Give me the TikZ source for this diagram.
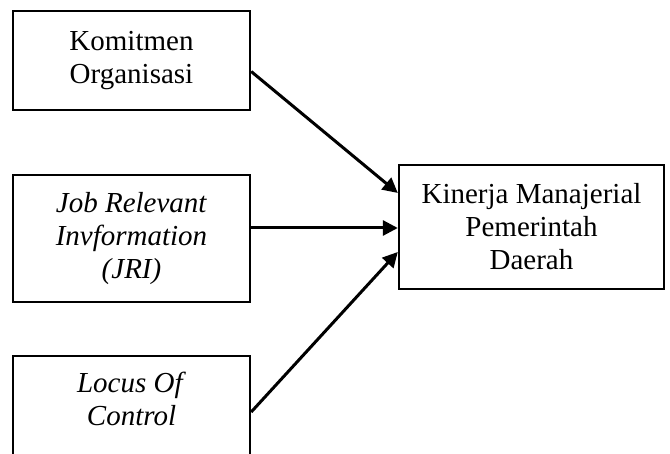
\documentclass[tikz,border=0pt]{standalone}
\usepackage{fontspec}
\setmainfont{Liberation Serif}
\usetikzlibrary{arrows.meta}
\tikzset{
  box/.style={draw=black, line width=2.4pt, rectangle, align=center, inner sep=0pt,
    font=\fontsize{29}{33}\selectfont},
  txt/.style={align=center, inner sep=0pt, font=\fontsize{29}{33}\selectfont},
  conn/.style={line width=3pt, -{Triangle[length=15pt,width=15pt]}}
}
\begin{document}
\begin{tikzpicture}[x=1pt,y=-1pt]
\useasboundingbox (0,0) rectangle (670,454);
\clip (0,0) rectangle (670,454);
\node[box, minimum width=237pt, minimum height=99pt] (kom) at (131.5,60.5) {Komitmen\\Organisasi};
\node[box, minimum width=237pt, minimum height=127pt] (jri) at (131.5,238.5) {\textit{Job Relevant}\\\textit{Invformation}\\\textit{(JRI)}};
\node[box, minimum width=237pt, minimum height=140pt, anchor=north] (loc) at (131.5,355) {};
\node[txt, anchor=north] (loct) at (131.5,372) {\textit{Locus Of}\\\textit{Control}};
\node[box, minimum width=265pt, minimum height=124pt] (kin) at (531.5,227) {Kinerja Manajerial\\Pemerintah\\Daerah};
\draw[conn] ([yshift=-11pt]kom.east) -- ([yshift=34pt]kin.west);
\draw[conn] (jri.east |- 0,228) -- (kin.west |- 0,228);
\draw[conn] ([yshift=-57pt]loc.north east) -- ([yshift=-25pt]kin.west);
\end{tikzpicture}
\end{document}
